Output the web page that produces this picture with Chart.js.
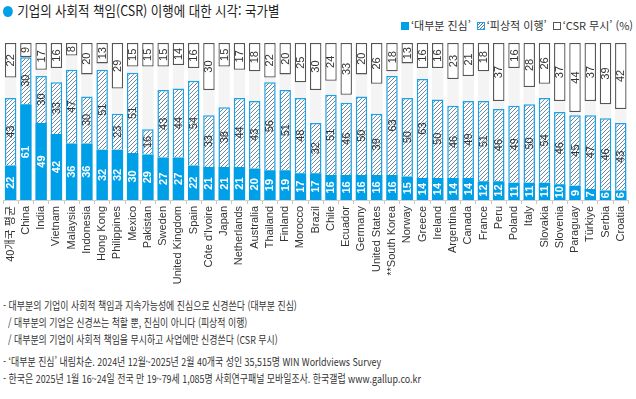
<!DOCTYPE html>
<html lang="ko">
<head>
<meta charset="utf-8">
<script src="https://cdn.jsdelivr.net/npm/chart.js@4/dist/chart.umd.min.js"></script>
<style>
  html, body { margin: 0; padding: 0; background: #fff; }
  body { width: 636px; height: 399px; position: relative; overflow: hidden;
         font-family: "Noto Sans CJK KR", "Liberation Sans", sans-serif; color: #222; }
  #title { position: absolute; left: 3px; top: 0px; font-size: 14px; line-height: 20px;
           transform: scaleX(0.89); transform-origin: left center; white-space: nowrap; }
  #title .dot { display: inline-block; width: 11px; height: 11px; border-radius: 50%;
                background: #00a0e9; margin-right: 5px; vertical-align: -1px; }
  #legend { position: absolute; right: 3px; top: 17px; font-size: 11px; line-height: 16px; color: #333;
            white-space: nowrap; }
  #legend .sw { display: inline-block; width: 8px; height: 8px; vertical-align: 0px; margin: 0 2px 0 6px; box-sizing: border-box; }
  #legend .sw.blue { background: #00a0e9; }
  #legend .sw.hatch { border: 1px solid #1aa3e8;
    background: repeating-linear-gradient(135deg, #fff 0 1.2px, #5a7a99 1.2px 2px); }
  #legend .sw.box { border: 1px solid #555; background: #fff; }
  #wrap { position: absolute; left: 0; top: 0; width: 636px; height: 292px; }
  #notes { position: absolute; left: 3px; top: 297px; font-size: 11px; color: #333; line-height: 17px; }
  #notes div { white-space: pre; transform: scaleX(0.81); transform-origin: left center; }
</style>
</head>
<body>
<div id="title"><span class="dot"></span>기업의 사회적 책임(CSR) 이행에 대한 시각: 국가별</div>
<div id="legend"><span class="sw blue"></span>‘대부분 진심’<span class="sw hatch"></span>‘피상적 이행’<span class="sw box"></span>‘CSR 무시’ (%)</div>
<div id="wrap"><canvas id="chart" width="636" height="292"></canvas></div>
<div id="notes">
  <div>- 대부분의 기업이 사회적 책임과 지속가능성에 진심으로 신경쓴다 (대부분 진심)</div>
  <div>  / 대부분의 기업은 신경쓰는 척할 뿐, 진심이 아니다 (피상적 이행)</div>
  <div>  / 대부분의 기업이 사회적 책임을 무시하고 사업에만 신경쓴다 (CSR 무시)</div>
  <div style="height:5px"></div>
  <div>- ‘대부분 진심’ 내림차순. 2024년 12월~2025년 2월 40개국 성인 35,515명 WIN Worldviews Survey</div>
  <div>- 한국은 2025년 1월 16~24일 전국 만 19~79세 1,085명 사회연구패널 모바일조사. 한국갤럽 www.gallup.co.kr</div>
</div>

<script>
// ============== Data ==============
const countries = [
  "40개국 평균", "China", "India", "Vietnam", "Malaysia", "Indonesia", "Hong Kong", "Philippines",
  "Mexico", "Pakistan", "Sweden", "United Kingdom", "Spain", "Côte d'Ivoire", "Japan", "Netherlands",
  "Australia", "Thailand", "Finland", "Morocco", "Brazil", "Chile", "Ecuador", "Germany",
  "United States", "**South Korea", "Norway", "Greece", "Ireland", "Argentina", "Canada", "France",
  "Peru", "Poland", "Italy", "Slovakia", "Slovenia", "Paraguay", "Türkiye", "Serbia", "Croatia"
];
const sincere = [22, 61, 49, 42, 36, 36, 32, 32, 30, 29, 27, 27, 22, 21, 21, 21, 20, 19, 19, 17, 17,
  16, 16, 16, 16, 16, 15, 14, 14, 14, 14, 12, 12, 11, 11, 11, 10, 9, 7, 6, 6];
const superficial = [43, 30, 30, 33, 47, 30, 51, 23, 51, 16, 43, 44, 54, 33, 38, 44, 43, 56, 51, 48, 32,
  51, 46, 50, 39, 63, 50, 63, 50, 46, 49, 51, 46, 49, 50, 54, 46, 45, 47, 46, 43];
const ignoreCsr = [22, 9, 17, 16, 8, 20, 13, 29, 15, 15, 15, 14, 16, 30, 15, 17, 18, 22, 20, 25, 30,
  24, 33, 20, 26, 18, 13, 16, 16, 23, 21, 18, 37, 16, 28, 26, 37, 44, 37, 39, 42];

const BLUE = "#00a0e9";

// ============== Hatch pattern ==============
function makeHatch() {
  const c = document.createElement("canvas");
  c.width = 4; c.height = 4;
  const g = c.getContext("2d");
  g.fillStyle = "#fff";
  g.fillRect(0, 0, 4, 4);
  g.strokeStyle = "#5a7a99";
  g.lineWidth = 0.9;
  g.beginPath();
  g.moveTo(0, 4); g.lineTo(4, 0);
  g.moveTo(-1, 1); g.lineTo(1, -1);
  g.moveTo(3, 5); g.lineTo(5, 3);
  g.stroke();
  return g.createPattern(c, "repeat");
}

// ============== Value labels (rotated) ==============
const valueLabels = {
  id: "valueLabels",
  afterDatasetsDraw(chart) {
    const ctx = chart.ctx;
    const sets = [
      { idx: 0, vals: sincere, color: "#fff", font: "bold 11px 'Liberation Sans', sans-serif" },
      { idx: 1, vals: superficial, color: "#333", font: "11px 'Liberation Sans', sans-serif" },
      { idx: 2, vals: ignoreCsr, color: "#333", font: "11px 'Liberation Sans', sans-serif" },
    ];
    sets.forEach(s => {
      chart.getDatasetMeta(s.idx).data.forEach((el, i) => {
        const cy = (el.y + el.base) / 2;
        ctx.save();
        ctx.translate(el.x, cy);
        ctx.rotate(-Math.PI / 2);
        ctx.font = s.font;
        ctx.fillStyle = s.color;
        ctx.textAlign = "center";
        ctx.textBaseline = "middle";
        ctx.fillText(String(s.vals[i]), 0, 0.5);
        ctx.restore();
      });
    });
  }
};

// ============== Chart ==============
function renderChart() {
  const ctx = document.getElementById("chart").getContext("2d");
  new Chart(ctx, {
    type: "bar",
    data: {
      labels: countries,
      datasets: [
        {
          label: "대부분 진심",
          data: sincere.map(v => [0, v]),
          backgroundColor: BLUE,
          borderWidth: 0,
          grouped: false,
          order: 0,
        },
        {
          label: "피상적 이행",
          data: superficial.map((v, i) => [sincere[i], sincere[i] + v]),
          backgroundColor: makeHatch(),
          borderColor: "#1aa3e8",
          borderWidth: 1.5,
          borderSkipped: "start",
          grouped: false,
          order: 0,
        },
        {
          label: "CSR 무시",
          data: ignoreCsr.map(v => [100 - v, 100]),
          backgroundColor: "#fff",
          borderColor: "#555",
          borderWidth: 1.3,
          borderSkipped: false,
          grouped: false,
          order: 0,
        },
        {
          label: "bg",
          data: countries.map(() => [0, 100]),
          backgroundColor: "#f4f4f4",
          borderWidth: 0,
          grouped: false,
          order: 5,
        },
      ]
    },
    options: {
      responsive: false,
      animation: false,
      layout: { padding: { top: 43, left: 3, right: 2, bottom: 0 } },
      datasets: { bar: { categoryPercentage: 1, barPercentage: 0.75 } },
      scales: {
        x: {
          afterFit: scale => { scale.height = 92; },
          grid: { drawOnChartArea: false, color: "#c8c8c8", tickLength: 4, offset: true },
          border: { color: "#d0d0d0" },
          ticks: {
            minRotation: 90,
            maxRotation: 90,
            autoSkip: false,
            padding: 2,
            color: "#333",
            font: { family: "'Liberation Sans', 'Noto Sans CJK KR', sans-serif", size: 11 },
          },
        },
        y: { display: false, min: 0, max: 100 },
      },
      plugins: {
        legend: { display: false },
        tooltip: { enabled: false },
      }
    },
    plugins: [valueLabels]
  });
}

document.addEventListener("DOMContentLoaded", renderChart);
</script>
</body>
</html>
